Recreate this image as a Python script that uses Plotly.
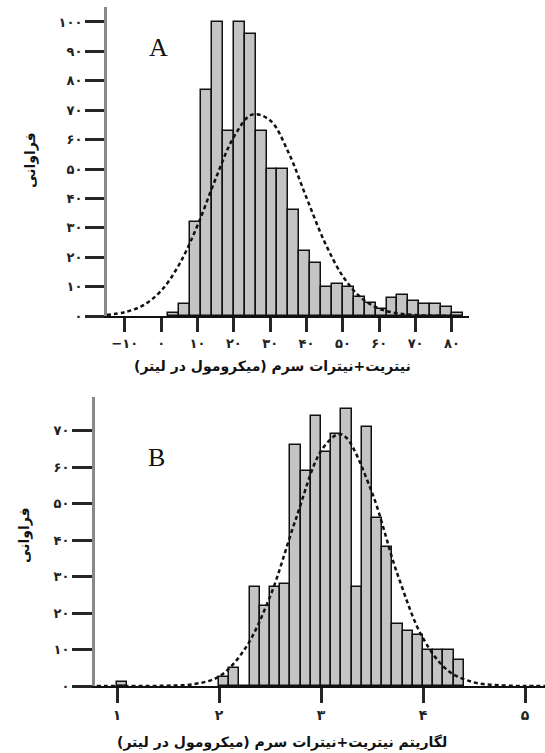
import plotly.graph_objects as go

# ---------------- Panel A data ----------------
a_bin_centers = [3.5, 6.5, 9.5, 12.5, 15.5, 18.5, 21.5, 24.5, 27.5, 30.5, 33.5, 36.5, 39.5,
                 42.5, 45.5, 48.5, 51.5, 54.5, 57.5, 60.5, 63.5, 66.5, 69.5, 72.5, 75.5, 78.5, 81.5]
a_counts = [1, 4, 32, 77, 100, 63, 100, 96, 63, 50, 50, 36, 22,
            18, 10, 11, 10, 6.5, 4.5, 2.5, 6, 7, 5, 4, 4, 3, 1]
a_bin_width = 3
a_curve_x = [-15, -10, -5, 0, 5, 10, 15, 20, 25, 30, 35, 40, 45, 50, 55, 60, 65, 70, 75, 80]
a_curve_y = [0.4, 1.3, 3.6, 8.6, 17.6, 30.8, 46.7, 60.9, 68.5, 66.5, 55.7, 40.2, 25.1,
             13.5, 6.2, 2.5, 0.9, 0.3, 0.1, 0.0]
a_xtick_vals = [-10, 0, 10, 20, 30, 40, 50, 60, 70, 80]
a_xtick_text = ["\u2212۱۰", "۰", "۱۰", "۲۰", "۳۰", "۴۰", "۵۰", "۶۰", "۷۰", "۸۰"]
a_ytick_vals = [0, 10, 20, 30, 40, 50, 60, 70, 80, 90, 100]
a_ytick_text = ["۰", "۱۰", "۲۰", "۳۰", "۴۰", "۵۰", "۶۰", "۷۰", "۸۰", "۹۰", "۱۰۰"]
a_xtitle = "نیتریت+نیترات سرم (میکرومول در لیتر)"

# ---------------- Panel B data ----------------
b_bin_centers = [1.05, 2.05, 2.15, 2.25, 2.35, 2.45, 2.55, 2.65, 2.75, 2.85, 2.95, 3.05, 3.15,
                 3.25, 3.35, 3.45, 3.55, 3.65, 3.75, 3.85, 3.95, 4.05, 4.15, 4.25, 4.35]
b_counts = [1, 2.5, 5, 0, 27, 22, 27, 28, 66, 59, 74, 64, 69,
            76, 27, 71, 46, 38, 17, 15, 14, 10, 10, 10, 7]
b_bin_width = 0.1
b_curve_x = [0.8, 1.0, 1.25, 1.5, 1.75, 2.0, 2.25, 2.5, 2.75, 3.0, 3.17, 3.25, 3.5,
             3.75, 4.0, 4.25, 4.5, 4.75, 5.0, 5.2]
b_curve_y = [0, 0, 0, 0.1, 0.5, 2.6, 10, 24.5, 45.5, 64.4, 69, 68, 53,
             30.6, 13.1, 4.1, 1.0, 0.2, 0, 0]
b_xtick_vals = [1, 2, 3, 4, 5]
b_xtick_text = ["۱", "۲", "۳", "۴", "۵"]
b_ytick_vals = [0, 10, 20, 30, 40, 50, 60, 70]
b_ytick_text = ["۰", "۱۰", "۲۰", "۳۰", "۴۰", "۵۰", "۶۰", "۷۰"]
b_xtitle = "لگاریتم نیتریت+نیترات سرم (میکرومول در لیتر)"

y_title = "فراوانی"

W, H = 545, 753
BAR_FILL = "#c4c4c4"
FONT = "DejaVu Sans"
TICKC = "#262626"

fig = go.Figure()

fig.add_trace(go.Bar(x=a_bin_centers, y=a_counts, width=a_bin_width,
                     marker=dict(color=BAR_FILL, line=dict(color="#111", width=1.5)),
                     xaxis="x", yaxis="y", showlegend=False))
fig.add_trace(go.Scatter(x=a_curve_x, y=a_curve_y, mode="lines",
                         line=dict(color="#111", width=2.5, dash="4px,3px", shape="spline"),
                         cliponaxis=False, xaxis="x", yaxis="y", showlegend=False))

fig.add_trace(go.Bar(x=b_bin_centers, y=b_counts, width=b_bin_width,
                     marker=dict(color=BAR_FILL, line=dict(color="#111", width=1.5)),
                     xaxis="x2", yaxis="y2", showlegend=False))
fig.add_trace(go.Scatter(x=b_curve_x, y=b_curve_y, mode="lines",
                         line=dict(color="#111", width=2.5, dash="4px,3px", shape="spline"),
                         cliponaxis=False, xaxis="x2", yaxis="y2", showlegend=False))

tickfont = dict(family=FONT, size=13, color="#222", weight="bold")

common = dict(tickmode="array", ticks="outside", tickwidth=3, tickcolor=TICKC,
              showgrid=False, zeroline=False, showticklabels=True)

fig.update_layout(
    template="none",
    width=W, height=H,
    margin=dict(l=0, r=0, t=0, b=0),
    paper_bgcolor="white", plot_bgcolor="white",
    bargap=0,
    xaxis=dict(domain=[107 / W, 469 / W], range=[-14.9, 84.7], anchor="y",
               tickvals=a_xtick_vals, ticktext=a_xtick_text, ticklen=14,
               showline=True, linecolor="#111", linewidth=2, tickfont=tickfont, **common),
    yaxis=dict(domain=[1 - 316 / H, 1 - 7 / H], range=[0, 105.1], anchor="x",
               tickvals=a_ytick_vals, ticktext=a_ytick_text, ticklen=19,
               showline=True, linecolor="#888", linewidth=3, tickfont=tickfont, **common),
    xaxis2=dict(domain=[95 / W, 1.0], range=[0.784, 5.196], anchor="y2",
                tickvals=b_xtick_vals, ticktext=b_xtick_text, ticklen=15,
                showline=True, linecolor="#111", linewidth=2,
                tickfont=dict(family=FONT, size=14, color="#222", weight="bold"), **common),
    yaxis2=dict(domain=[1 - 686 / H, 1 - 397 / H], range=[0, 79.2], anchor="x2",
                tickvals=b_ytick_vals, ticktext=b_ytick_text, ticklen=20,
                showline=True, linecolor="#888", linewidth=3, tickfont=tickfont, **common),
)

def note(text, px, py, size, family=FONT, angle=0, bold=True):
    f = dict(family=family, size=size, color="#111")
    if bold:
        f["weight"] = "bold"
    return dict(text=text, x=px / W, y=1 - py / H, xref="paper", yref="paper",
                xanchor="center", yanchor="middle", textangle=angle,
                showarrow=False, font=f)

ann = [
    note("A", 158, 48, 26, family="Liberation Serif", bold=False),
    note("B", 156, 457, 26, family="Liberation Serif", bold=False),
    note(y_title, 30, 160, 14, angle=-90),
    note(y_title, 24, 535, 14, angle=-90),
    note(a_xtitle, 272, 366, 14),
    note(b_xtitle, 282, 742, 14),
]
fig.update_layout(annotations=ann)

fig.write_html("out.html",
               config={"displayModeBar": False},
               post_script="document.body.style.margin='0px';document.body.style.overflow='hidden';")
